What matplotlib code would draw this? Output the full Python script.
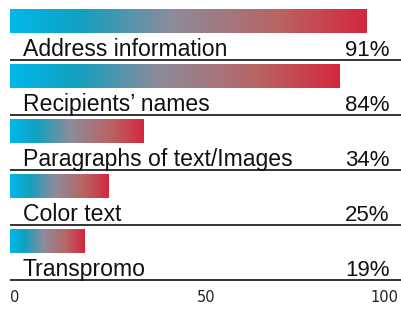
import numpy as np
import matplotlib
matplotlib.use("Agg")
import matplotlib.pyplot as plt
from matplotlib.colors import LinearSegmentedColormap

categories = ["Address information", "Recipients\u2019 names", "Paragraphs of text/Images", "Color text", "Transpromo"]
values = [91, 84, 34, 25, 19]
tick_values = [0, 50, 100]
tick_labels = ["0", "50", "100"]

cmap = LinearSegmentedColormap.from_list("g", [
    (0.0, (0/255, 184/255, 235/255)),
    (0.2, (18/255, 160/255, 192/255)),
    (0.45, (140/255, 140/255, 155/255)),
    (0.75, (185/255, 100/255, 100/255)),
    (1.0, (212/255, 40/255, 62/255)),
])

fig = plt.figure(figsize=(4.02, 3.09), dpi=100)
ax = fig.add_axes([0, 0, 1, 1])
ax.set_xlim(-2.55, 100)
ax.set_ylim(304/55, -5/55)
ax.axis("off")

grad = np.linspace(0, 1, 256).reshape(1, -1)
font = "Liberation Sans"
for i, (cat, v) in enumerate(zip(categories, values)):
    top = i + 4/55
    bot = i + 28/55
    ax.imshow(grad, cmap=cmap, aspect="auto", extent=(0, v, bot, top), interpolation="bilinear", zorder=2)
    ax.text(3.3, i + 51/55, cat, fontsize=16.6, family=font, ha="left", va="baseline", color="#111111")
    ax.text(96.9, i + 51/55, f"{v}%", fontsize=16, family=font, ha="right", va="baseline", color="#111111")
    ax.plot([0, 100], [i + 1, i + 1], color="#111111", lw=1.2, solid_capstyle="butt")

aligns = ["left", "center", "right"]
for tv, tl, al in zip(tick_values, tick_labels, aligns):
    x = tv if al != "right" else tv - 1.0
    ax.text(x, 293/55, tl, fontsize=10.5, family="DejaVu Sans", ha=al, va="center", color="#222222")

fig.savefig("out.png", dpi=100)
